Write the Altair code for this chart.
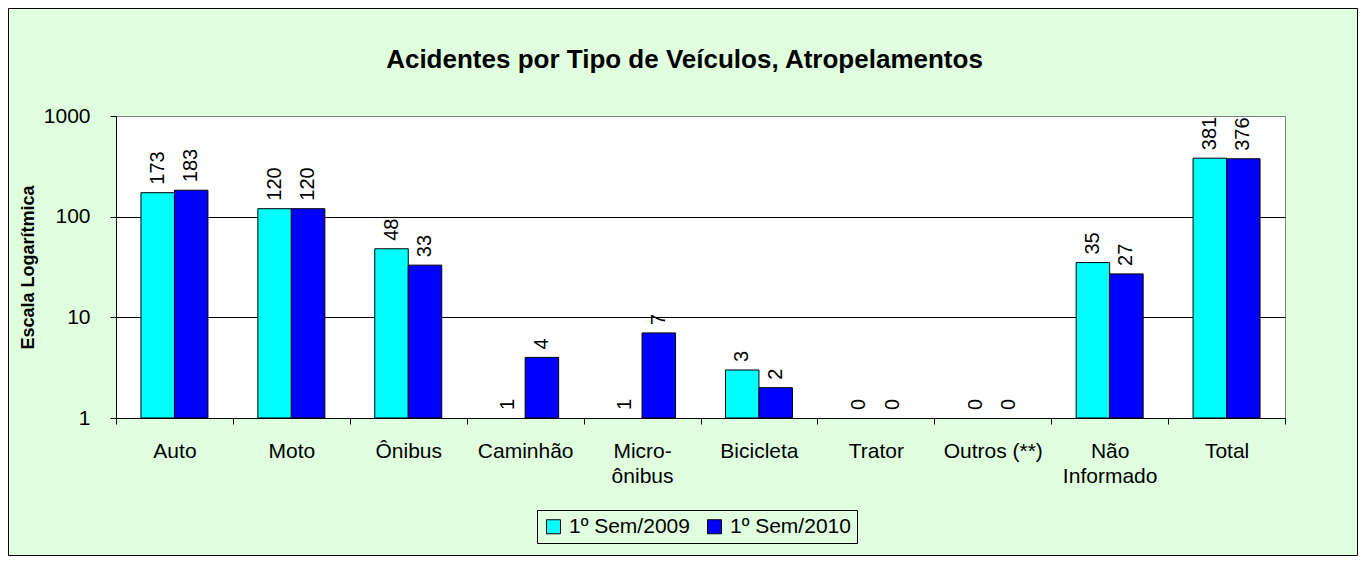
import altair as alt
import pandas as pd

categories = ["Auto", "Moto", "Ônibus", "Caminhão", "Micro-|ônibus", "Bicicleta",
              "Trator", "Outros (**)", "Não|Informado", "Total"]
sem_2009 = [173, 120, 48, 1, 1, 3, 0, 0, 35, 381]
sem_2010 = [183, 120, 33, 4, 7, 2, 0, 0, 27, 376]
series_names = ["1º Sem/2009", "1º Sem/2010"]
series_colors = ["#00FFFF", "#0000FF"]
y_ticks = [1, 10, 100, 1000]

rows = []
for c, a, b in zip(categories, sem_2009, sem_2010):
    rows.append({"cat": c, "serie": series_names[0], "valor": a})
    rows.append({"cat": c, "serie": series_names[1], "valor": b})
df = pd.DataFrame(rows)
df["pos"] = df["valor"].clip(lower=1)

BG = "#DFFFDF"
W, H = 1169, 302
PAD = {"left": 108, "top": 108, "right": 73, "bottom": 138}

x_enc = alt.X(
    "cat:N", sort=categories, title=None,
    scale=alt.Scale(paddingInner=0, paddingOuter=0),
    axis=alt.Axis(tickBand="extent", tickSize=6, tickColor="black", domainColor="black",
                  labelFontSize=21, labelPadding=16, labelAngle=0, labelLineHeight=25,
                  labelExpr="isValid(datum.value) ? split(datum.value, '|') : ''",
                  labelColor="black",
                  labelOverlap=False, labelBaseline="top", grid=False),
)
xoff = alt.XOffset("serie:N", sort=series_names,
                   scale=alt.Scale(paddingInner=0, paddingOuter=0.745))
y_enc = alt.Y(
    "pos:Q", title="Escala Logarítmica",
    scale=alt.Scale(type="log", domain=[1, 1000]),
    axis=alt.Axis(values=y_ticks, format="d", labelFontSize=21, labelPadding=20,
                  tickSize=6, tickColor="black", domainColor="black", labelColor="black",
                  gridColor={"condition": {"test": "datum.value == 1000", "value": "#808080"},
                             "value": "#000000"},
                  gridWidth=1, titleFontSize=18, titleFontWeight="bold", titleColor="black",
                  titleX=-88, titleY=151, titleAlign="center", titleBaseline="middle",
                  titleAngle=270),
)
color = alt.Color(
    "serie:N", sort=series_names,
    scale=alt.Scale(domain=series_names, range=series_colors),
    legend=alt.Legend(orient="none", legendX=421, legendY=394, direction="horizontal",
                      title=None, labelFontSize=21, symbolType="square", symbolSize=196,
                      symbolStrokeColor="black", symbolStrokeWidth=1, strokeColor="black",
                      fillColor=BG, padding=6, columnPadding=14, labelOffset=5,
                      labelColor="black"),
)

frame = alt.Chart(pd.DataFrame({"k": [0]})).mark_rect(
    filled=False, stroke="black", strokeWidth=1
).encode(
    x=alt.value(-PAD["left"] + 0.5), x2=alt.value(W + PAD["right"] - 0.5),
    y=alt.value(-PAD["top"] + 0.5), y2=alt.value(H + PAD["bottom"] - 0.5),
)

bars = alt.Chart(df).transform_filter("datum.valor > 1").mark_bar(
    stroke="black", strokeWidth=1
).encode(x=x_enc, xOffset=xoff, y=y_enc, y2=alt.datum(1), color=color)

labels = alt.Chart(df).mark_text(
    angle=270, align="left", baseline="middle", dx=8, fontSize=20, color="black"
).encode(
    x=alt.X("cat:N", sort=categories),
    xOffset=alt.XOffset("serie:N", sort=series_names),
    y=alt.Y("pos:Q"),
    text=alt.Text("valor:Q", format="d"),
)

chart = alt.layer(frame, bars, labels).properties(
    width=W, height=H,
    autosize=alt.AutoSizeParams(type="none"),
    padding=PAD,
    background=BG,
    title=alt.TitleParams("Acidentes por Tipo de Veículos, Atropelamentos",
                          fontSize=26, fontWeight="bold", anchor="middle", frame="group",
                          dx=-16, baseline="alphabetic", offset=-86, color="black"),
).configure(font="Liberation Sans").configure_view(stroke="#808080", strokeWidth=1, fill="white")

chart.save("out.html", embed_options={"renderer": "svg", "actions": False})
